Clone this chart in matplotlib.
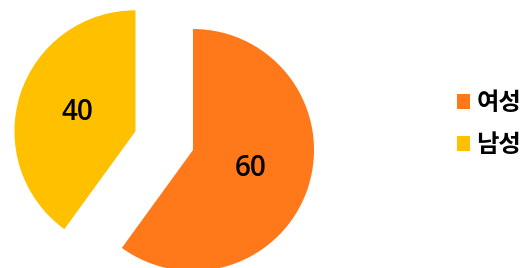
import matplotlib
matplotlib.use('Agg')
import matplotlib.pyplot as plt

plt.rcParams['font.family'] = ['Noto Sans CJK KR', 'DejaVu Sans']

labels = ['여성', '남성']
values = [60, 40]
colors = ['#FF781A', '#FFC000']
explode = [0, 0.5]

fig = plt.figure(figsize=(5.29, 2.68), dpi=100)
ax = fig.add_axes([0, 0, 1, 1])

wedges, texts, autotexts = ax.pie(values, colors=colors, explode=explode, startangle=90,
                                  counterclock=False, autopct=lambda p: f'{p:.0f}',
                                  pctdistance=0.5,
                                  textprops={'fontsize': 20, 'family': ['Open Sans', 'DejaVu Sans'],
                                             'weight': 'semibold'})

# 121 px per data unit, pie centre at pixel (193, 150)
s = 121.0
ax.set_xlim(-193 / s, (529 - 193) / s)
ax.set_ylim(-(268 - 150) / s, 150 / s)
ax.set_aspect('equal')
ax.axis('off')

fig.legend(wedges, labels, loc='center left', bbox_to_anchor=(457 / 529, 1 - 124 / 268),
           frameon=False, borderpad=0, borderaxespad=0, handlelength=0.55, handleheight=0.55,
           handletextpad=0.25, labelspacing=0.75, prop={'size': 17.5, 'weight': 'bold'})

fig.savefig('out.png', dpi=100)
